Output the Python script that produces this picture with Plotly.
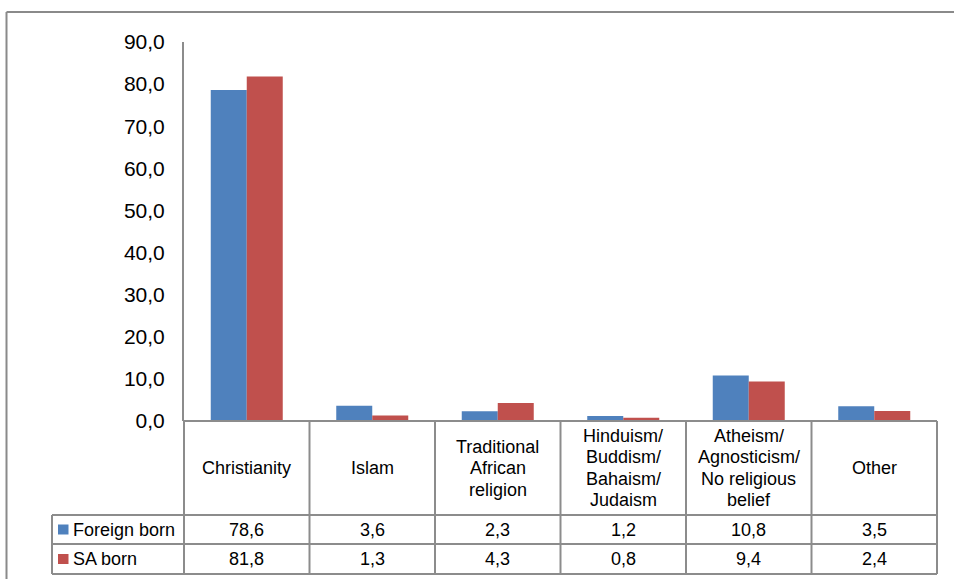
import plotly.graph_objects as go

# Religious affiliation (%) by place of birth
categories = [
    "Christianity",
    "Islam",
    "Traditional\nAfrican\nreligion",
    "Hinduism/\nBuddism/\nBahaism/\nJudaism",
    "Atheism/\nAgnosticism/\nNo religious\nbelief",
    "Other",
]
series_names = ["Foreign born", "SA born"]
foreign_born = [78.6, 3.6, 2.3, 1.2, 10.8, 3.5]
sa_born = [81.8, 1.3, 4.3, 0.8, 9.4, 2.4]
y_ticks = [0, 10, 20, 30, 40, 50, 60, 70, 80, 90]

W, H = 954, 579
BLUE = "#4F81BD"
RED = "#C0504D"
GRID = "#8c8c8c"
FONT = "Liberation Sans, Arial, sans-serif"

# pixel layout of the plot area and data table
X0, X1 = 184, 937          # category columns
Y_TOP, Y_ZERO = 42, 421    # value axis 90 -> 0
Y_ROW1, Y_ROW2, Y_ROW3 = 515, 544, 574
X_LEG = 52                 # left edge of legend column
LINE_STEP = 21.5           # line spacing of wrapped category names


def px(x):
    return x / W


def py(y):
    return 1 - y / H


def fmt(v):
    return f"{v:.1f}".replace(".", ",")


fig = go.Figure()
xs = list(range(len(categories)))
fig.add_trace(go.Bar(x=xs, y=foreign_born, name=series_names[0],
                     marker=dict(color=BLUE, line=dict(width=0))))
fig.add_trace(go.Bar(x=xs, y=sa_born, name=series_names[1],
                     marker=dict(color=RED, line=dict(width=0))))

shapes = []
annotations = []


def hline(x0, x1, y, w=2, color=GRID):
    shapes.append(dict(type="line", xref="paper", yref="paper",
                       x0=px(x0), x1=px(x1), y0=py(y), y1=py(y),
                       line=dict(color=color, width=w)))


def vline(x, y0, y1, w=2, color=GRID):
    shapes.append(dict(type="line", xref="paper", yref="paper",
                       x0=px(x), x1=px(x), y0=py(y0), y1=py(y1),
                       line=dict(color=color, width=w)))


def label(x, y, text, anchor="center"):
    annotations.append(dict(xref="paper", yref="paper", x=px(x), y=py(y),
                            text=text, showarrow=False, xanchor=anchor,
                            yanchor="middle",
                            font=dict(family=FONT, size=18, color="#000000")))


# outer chart frame (top and left edges)
hline(6.5, W, 12, color="#8a8a8a")
vline(6.5, 12, H, color="#8a8a8a")

# data table grid
n = len(categories)
col_w = (X1 - X0) / n
hline(X0, X1, Y_ZERO)
hline(X_LEG, X1, Y_ROW1)
hline(X_LEG, X1, Y_ROW2)
hline(X_LEG, X1, Y_ROW3)
for i in range(n + 1):
    vline(X0 + i * col_w, Y_ZERO, Y_ROW3)
vline(X_LEG, Y_ROW1, Y_ROW3)

# table text
for i, cat in enumerate(categories):
    cx = X0 + (i + 0.5) * col_w
    lines = cat.split("\n")
    mid = (Y_ZERO + Y_ROW1) / 2
    for k, ln in enumerate(lines):
        label(cx, mid + (k - (len(lines) - 1) / 2) * LINE_STEP, ln)
    label(cx, (Y_ROW1 + Y_ROW2) / 2, fmt(foreign_born[i]))
    label(cx, (Y_ROW2 + Y_ROW3) / 2, fmt(sa_born[i]))

# legend keys inside the table
for name, color, (ya, yb) in ((series_names[0], BLUE, (Y_ROW1, Y_ROW2)),
                              (series_names[1], RED, (Y_ROW2, Y_ROW3))):
    cy = (ya + yb) / 2
    shapes.append(dict(type="rect", xref="paper", yref="paper",
                       x0=px(58), x1=px(68.5), y0=py(cy + 5), y1=py(cy - 5),
                       fillcolor=color, line=dict(width=0)))
    label(71, cy, name, anchor="left")

fig.update_layout(
    width=W, height=H,
    margin=dict(l=0, r=0, t=0, b=0, pad=0, autoexpand=False),
    paper_bgcolor="#ffffff", plot_bgcolor="#ffffff",
    separators=", ",
    barmode="group", bargap=1 - 72 / col_w, bargroupgap=0,
    showlegend=False,
    shapes=shapes, annotations=annotations,
    xaxis=dict(domain=[px(X0), px(X1)], range=[-0.5, n - 0.5],
               showticklabels=False, showgrid=False, zeroline=False,
               showline=False, fixedrange=True, automargin=False),
    yaxis=dict(domain=[py(Y_ZERO), py(Y_TOP)], range=[0, 90],
               tickvals=y_ticks, tickformat=".1f", showgrid=False,
               zeroline=False, showline=True, linecolor=GRID, linewidth=2,
               ticks="", ticklabelstandoff=13, automargin=False,
               tickfont=dict(family=FONT, size=21, color="#000000")),
)

fig.write_html("out.html")
